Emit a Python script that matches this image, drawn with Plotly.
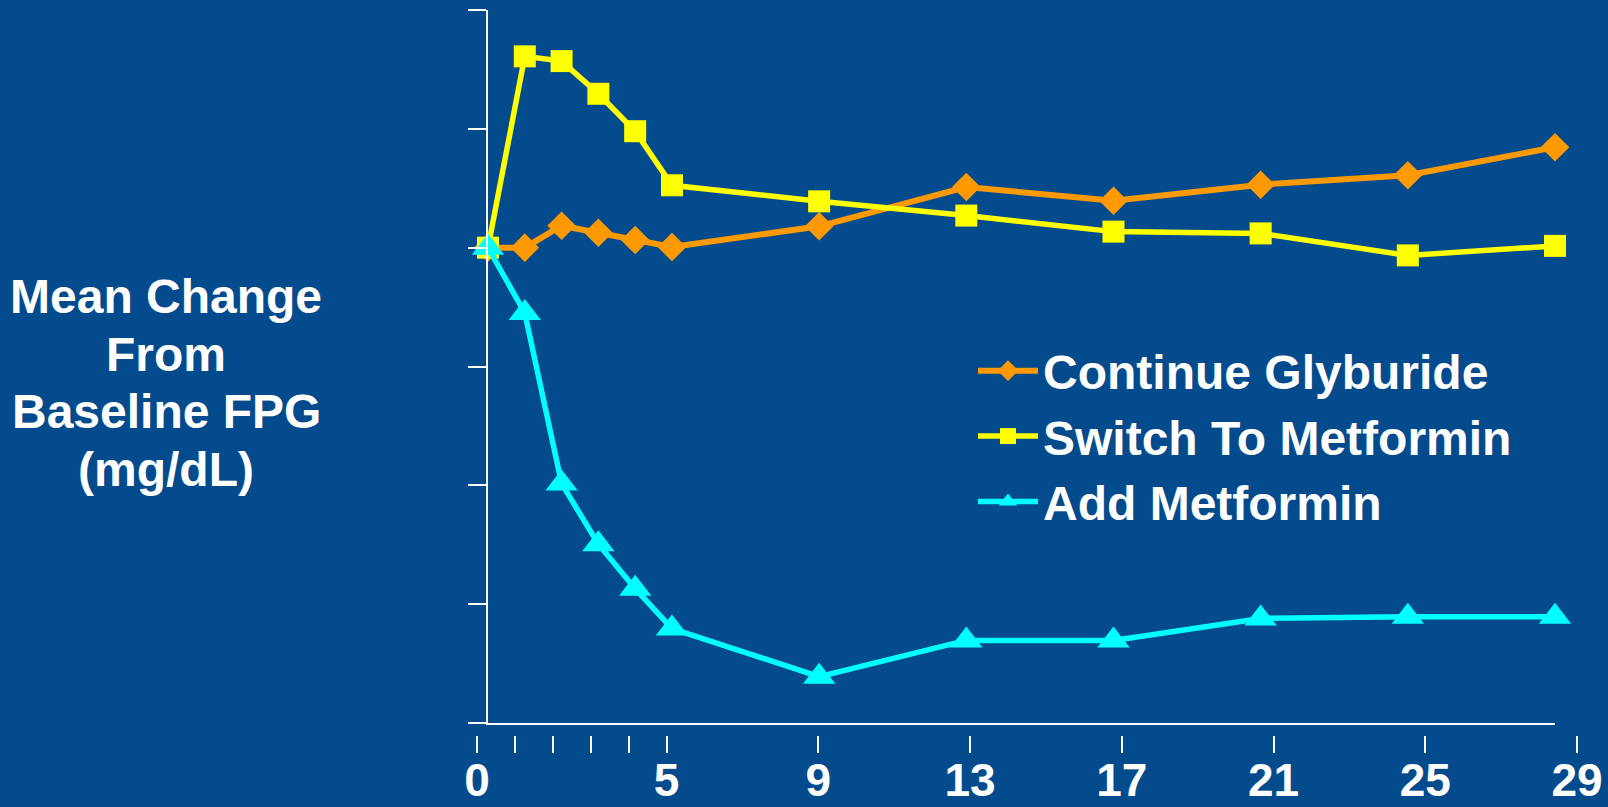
import plotly.graph_objects as go

# Weeks of treatment and mean change from baseline FPG (mg/dL)
weeks = [0, 1, 2, 3, 4, 5, 9, 13, 17, 21, 25, 29]
continue_glyburide = [0, 0, 3.7, 2.5, 1.3, 0.1, 3.6, 10.2, 7.9, 10.6, 12.2, 16.9]
switch_to_metformin = [0, 32.2, 31.4, 25.9, 19.6, 10.5, 7.8, 5.4, 2.7, 2.4, -1.3, 0.3]
add_metformin = [0, -11.0, -39.7, -49.9, -57.4, -64.1, -72.2, -66.1, -66.1, -62.4, -62.1, -62.1]

series_names = ["Continue Glyburide", "Switch To Metformin", "Add Metformin"]
week_ticks = [0, 1, 2, 3, 4, 5, 9, 13, 17, 21, 25, 29]
week_tick_text = ["0", "", "", "", "", "5", "9", "13", "17", "21", "25", "29"]
y_ticks = [-80, -60, -40, -20, 0, 20, 40]
y_title_lines = ["Mean Change", "From", "Baseline FPG", "(mg/dL)"]

BG = "#034B8C"
W, H = 1608, 807
FONT = "Liberation Sans, Arial, sans-serif"

def px_x(p):
    return p / W

def px_y(p):
    return 1 - p / H

styles = [
    dict(color="#FF9900", symbol="diamond", size=22, width=6),
    dict(color="#FFFF00", symbol="square", size=22, width=5.5),
    dict(color="#00FFFF", symbol="triangle-up", size=28, width=5.5),
]

fig = go.Figure()
for name, values, st in zip(series_names,
                            [continue_glyburide, switch_to_metformin, add_metformin],
                            styles):
    fig.add_trace(go.Scatter(
        x=weeks, y=values, name=name, mode="lines+markers",
        line=dict(color=st["color"], width=st["width"]),
        marker=dict(color=st["color"], symbol=st["symbol"], size=st["size"],
                    line=dict(width=0)),
        cliponaxis=False, xaxis="x", yaxis="y",
    ))

# empty trace so the week-tick strip below the plot is rendered
fig.add_trace(go.Scatter(x=[None], y=[None], xaxis="x2", yaxis="y2",
                         showlegend=False, hoverinfo="skip"))

fig.update_layout(
    template="none",
    width=W, height=H,
    margin=dict(l=0, r=0, t=0, b=0, autoexpand=False),
    paper_bgcolor=BG, plot_bgcolor=BG,
    font=dict(family=FONT, color="white", weight="bold"),
    xaxis=dict(
        domain=[px_x(488), px_x(1555)], range=[0, 29], anchor="y",
        automargin=False,
        showgrid=False, zeroline=False, showticklabels=False, ticks="",
        showline=True, linecolor="white", linewidth=2,
    ),
    yaxis=dict(
        domain=[px_y(723), px_y(10)], range=[-80, 40], anchor="x",
        automargin=False,
        tickmode="array", tickvals=y_ticks, showticklabels=False,
        ticks="outside", ticklen=18, tickwidth=2, tickcolor="white",
        showgrid=False, zeroline=False,
        showline=True, linecolor="white", linewidth=2,
    ),
    xaxis2=dict(
        domain=[px_x(477), px_x(1577)], range=[0, 29], anchor="y2",
        automargin=False,
        tickmode="array", tickvals=week_ticks, ticktext=week_tick_text,
        ticks="outside", ticklen=17, tickwidth=2, tickcolor="white",
        ticklabelstandoff=-12,
        showgrid=False, zeroline=False, showline=False,
        tickfont=dict(family=FONT, size=46, color="white", weight="bold"),
    ),
    yaxis2=dict(
        domain=[px_y(735), px_y(731)], range=[0, 1], anchor="x2",
        automargin=False,
        visible=False, showgrid=False, zeroline=False,
    ),
    legend=dict(
        x=px_x(973), y=px_y(333), xanchor="left", yanchor="top",
        bgcolor="rgba(0,0,0,0)", itemwidth=60,
        font=dict(family=FONT, size=48, color="white", weight="bold"),
    ),
    showlegend=True,
)

for line, yc in zip(y_title_lines, [296.5, 354, 411.5, 469]):
    fig.add_annotation(
        text=line, xref="paper", yref="paper",
        x=px_x(166), y=px_y(yc), xanchor="center", yanchor="middle",
        showarrow=False,
        font=dict(family=FONT, size=48, color="white", weight="bold"),
    )

fig.write_html("out.html")
